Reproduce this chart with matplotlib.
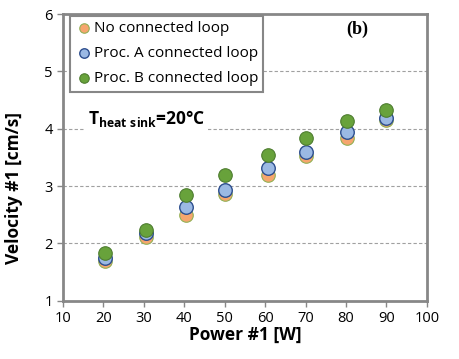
import matplotlib
matplotlib.use("Agg")
import matplotlib.pyplot as plt

power = [20.3, 30.6, 40.5, 50.0, 60.7, 70.2, 80.3, 90.0]
v_none = [1.69, 2.12, 2.50, 2.87, 3.20, 3.52, 3.83, 4.15]
v_proc_a = [1.74, 2.18, 2.63, 2.94, 3.32, 3.59, 3.94, 4.19]
v_proc_b = [1.84, 2.24, 2.84, 3.20, 3.54, 3.83, 4.14, 4.33]
labels = ["No connected loop", "Proc. A connected loop", "Proc. B connected loop"]

plt.rcParams['font.family'] = ['Open Sans', 'DejaVu Sans']
plt.rcParams['mathtext.fontset'] = 'custom'
plt.rcParams['mathtext.bf'] = 'Open Sans:bold'
plt.rcParams['mathtext.rm'] = 'Open Sans'

fig = plt.figure(figsize=(4.6, 3.59), dpi=100)
ax = fig.add_axes([0.137, 0.162, 0.791, 0.799])

ax.scatter(power, v_none, s=95, c='#F6A66E', edgecolors='#93B055', linewidths=0.8, label=labels[0], zorder=3)
ax.scatter(power, v_proc_a, s=95, c='#9BB9E4', edgecolors='#2D4E8E', linewidths=1.0, label=labels[1], zorder=4)
ax.scatter(power, v_proc_b, s=95, c='#68A23B', edgecolors='#4E7D2F', linewidths=0.8, label=labels[2], zorder=5)

ax.set_xlim(10, 100)
ax.set_ylim(1, 6)
ax.set_xticks(range(10, 101, 10))
ax.set_yticks(range(1, 7))
for y in [2, 3, 4, 5]:
    ax.axhline(y, color='#A0A0A0', lw=0.8, ls=(0, (3, 2)), zorder=1)

for sp in ax.spines.values():
    sp.set_color('#878787')
    sp.set_linewidth(2)
ax.tick_params(direction='out', length=4, width=1, color='#878787', labelsize=10.5)

ax.set_xlabel('Power #1 [W]', fontsize=12.5, fontweight='bold', labelpad=0)
ax.set_ylabel('Velocity #1 [cm/s]', fontsize=12.5, fontweight='bold')
ax.yaxis.set_label_coords(-0.11, 0.395)

leg = ax.legend(loc='upper left', bbox_to_anchor=(0.019, 0.993), fontsize=11, markerscale=0.7,
                handletextpad=0.1, borderpad=0.35, labelspacing=0.65, fancybox=False,
                framealpha=1, borderaxespad=0, handlelength=1.1)
leg.get_frame().set_edgecolor('#878787')
leg.get_frame().set_linewidth(1.5)

ax.text(0.81, 0.948, '(b)', transform=ax.transAxes, fontsize=13, fontweight='bold',
        family='Liberation Serif', ha='center', va='center')
ax.text(0.069, 0.636, r'$\mathbf{T_{heat\ sink}}$=20°C', transform=ax.transAxes, fontsize=12.5,
        fontweight='bold', ha='left', va='center',
        bbox=dict(facecolor='white', edgecolor='none', pad=2), zorder=6)

fig.savefig('out.png', dpi=100)
